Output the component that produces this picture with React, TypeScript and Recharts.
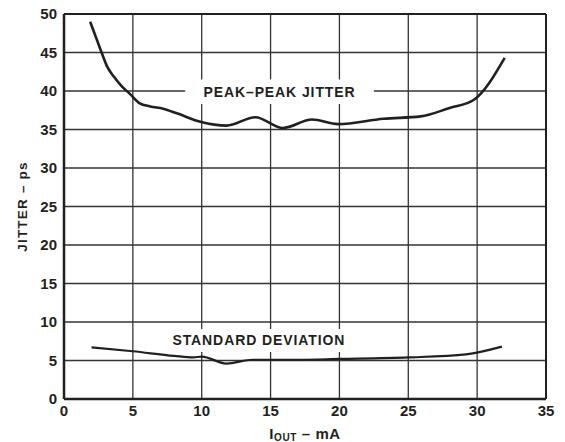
import { LineChart, Line, XAxis, YAxis, CartesianGrid, ReferenceArea, ReferenceLine } from 'recharts';

const peakCurrent = [1.9, 2.4, 2.75, 3.1, 3.6, 4.2, 4.8, 5.5, 6.25, 7.2, 8.2, 9.9, 11.8, 13.9, 15.9, 18, 19.9, 23.2, 25.9, 28, 29.8, 32];
const peakJitter = [49, 46.6, 44.9, 43.3, 41.9, 40.6, 39.6, 38.4, 38.0, 37.7, 37.1, 36.0, 35.5, 36.6, 35.2, 36.3, 35.7, 36.4, 36.7, 37.8, 38.9, 44.3];

const stdCurrent = [2, 5, 8, 9.4, 10, 11.8, 13.7, 17, 20, 25, 29.2, 31.8];
const stdJitter = [6.7, 6.2, 5.6, 5.4, 5.5, 4.6, 5.1, 5.1, 5.2, 5.4, 5.8, 6.8];

const xTicks = [0, 5, 10, 15, 20, 25, 30, 35];
const yTicks = [0, 5, 10, 15, 20, 25, 30, 35, 40, 45, 50];

const peakData = peakCurrent.map((x, i) => ({ x, y: peakJitter[i] }));
const stdData = stdCurrent.map((x, i) => ({ x, y: stdJitter[i] }));

const ink = '#231f20';
const font = { fontFamily: 'Liberation Sans, Arial, sans-serif', fontWeight: 'bold' as const };

function XLabel(props: any) {
    const vb = props.viewBox || {};
    const cx = vb.x + vb.width / 2;
    return (
        <text x={cx} y={439} textAnchor="middle" fill={ink} fontSize={15} letterSpacing={0.6} {...font}>
            I<tspan fontSize={10} dy={2}>OUT</tspan>
            <tspan dy={-2}> – mA</tspan>
        </text>
    );
}

function YLabel(props: any) {
    const vb = props.viewBox || {};
    const cy = vb.y + vb.height / 2;
    return (
        <text x={22} y={cy} transform={`rotate(-90 22 ${cy})`} textAnchor="middle" dominantBaseline="central" fill={ink} fontSize={13.5} letterSpacing={1.2} {...font}>
            JITTER – ps
        </text>
    );
}

export default function App() {
    const tickStyle = { fill: ink, fontSize: 15, ...font };
    const areaLabel = { fill: ink, fontSize: 14, letterSpacing: 0.9, ...font };
    return (
        <div style={{ position: 'absolute', left: 0, top: 0, background: '#fff' }}>
            <LineChart width={565} height={442} margin={{ top: 14, right: 19, bottom: 13, left: 20 }}>
                <CartesianGrid stroke="#333" strokeWidth={1.3} />
                <XAxis
                    type="number"
                    dataKey="x"
                    domain={[0, 35]}
                    ticks={xTicks}
                    interval={0}
                    height={30}
                    allowDataOverflow
                    tickLine={false}
                    tickMargin={0}
                    axisLine={{ stroke: ink, strokeWidth: 2.5 }}
                    tick={tickStyle}
                    label={<XLabel />}
                />
                <YAxis
                    type="number"
                    dataKey="y"
                    domain={[0, 50]}
                    ticks={yTicks}
                    interval={0}
                    width={44}
                    tickLine={false}
                    tickMargin={1}
                    axisLine={{ stroke: ink, strokeWidth: 2.5 }}
                    tick={tickStyle}
                    label={<YLabel />}
                />
                <ReferenceLine y={50} stroke={ink} strokeWidth={2} />
                <ReferenceLine x={35} stroke={ink} strokeWidth={2} />
                <ReferenceArea
                    x1={8.8}
                    x2={22.5}
                    y1={38.3}
                    y2={41.5}
                    fill="#fff"
                    fillOpacity={1}
                    stroke="none"
                    label={{ value: 'PEAK–PEAK JITTER', position: 'center', ...areaLabel }}
                />
                <ReferenceArea
                    x1={7.3}
                    x2={21}
                    y1={6.1}
                    y2={9.1}
                    fill="#fff"
                    fillOpacity={1}
                    stroke="none"
                    label={{ value: 'STANDARD DEVIATION', position: 'center', ...areaLabel }}
                />
                <Line data={peakData} dataKey="y" type="monotone" stroke={ink} strokeWidth={2.6} strokeLinejoin="round" dot={false} isAnimationActive={false} />
                <Line data={stdData} dataKey="y" type="monotone" stroke={ink} strokeWidth={2.2} dot={false} isAnimationActive={false} />
            </LineChart>
        </div>
    );
}
